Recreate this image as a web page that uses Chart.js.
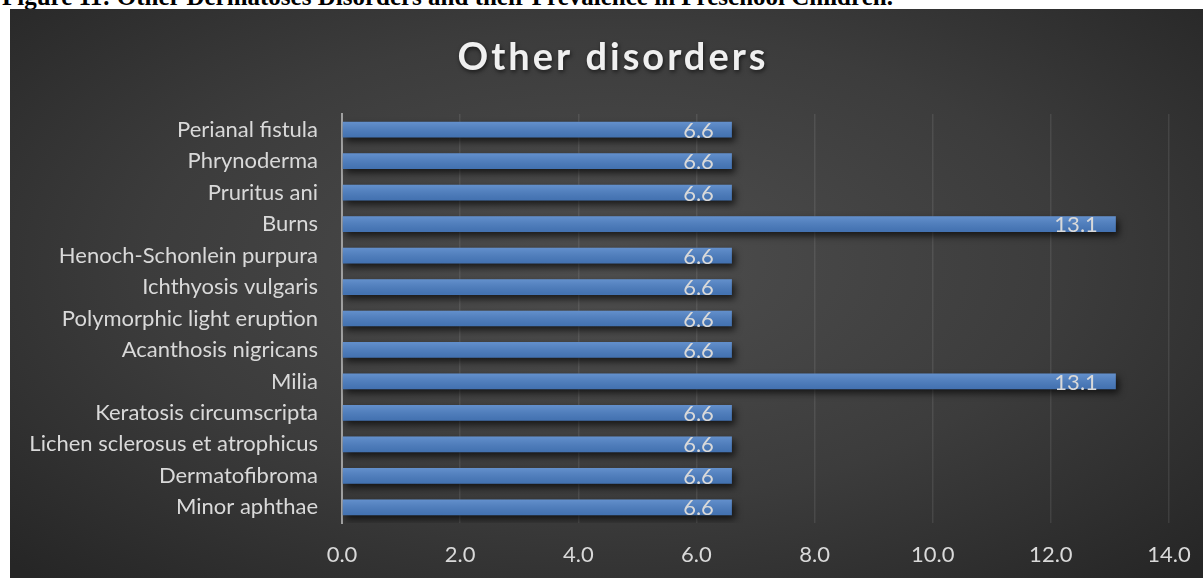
<!DOCTYPE html>
<html>
<head>
<meta charset="utf-8">
<script src="https://cdn.jsdelivr.net/npm/chart.js@4"></script>
<style>
  html, body { margin: 0; padding: 0; background: #fff; overflow: hidden; }
  body { width: 1203px; height: 578px; position: relative; }
  #caption {
    position: absolute; left: 2px; top: -17px; white-space: nowrap;
    font: bold 25px "Liberation Serif", "Times New Roman", serif; color: #000;
  }
  #box {
    position: absolute; left: 10px; top: 9px; width: 1193px; height: 569px;
    background: radial-gradient(ellipse 70% 75% at 50% 45%, #4e4e4e 0%, #3c3c3c 55%, #262626 100%);
  }
  canvas { display: block; }
</style>
</head>
<body>
<div id="caption">Figure 11: Other Dermatoses Disorders and their Prevalence in Preschool Children.</div>
<div id="box"><canvas id="chart" width="1193" height="569"></canvas></div>
<script>
const chartTitle = 'Other disorders';
const categories = [
  'Perianal fistula', 'Phrynoderma', 'Pruritus ani', 'Burns',
  'Henoch-Schonlein purpura', 'Ichthyosis vulgaris', 'Polymorphic light eruption',
  'Acanthosis nigricans', 'Milia', 'Keratosis circumscripta',
  'Lichen sclerosus et atrophicus', 'Dermatofibroma', 'Minor aphthae'
];
const prevalence = [6.6, 6.6, 6.6, 13.1, 6.6, 6.6, 6.6, 6.6, 13.1, 6.6, 6.6, 6.6, 6.6];
const xTicks = [0, 2, 4, 6, 8, 10, 12, 14];

const FONT = 'Lato';
const TEXT = '#d9d9d9';

// soft shadow under bars, then a gloss and the value labels on top
const barDeco = {
    id: 'barDeco',
    beforeDatasetsDraw(chart) {
        const ctx = chart.ctx;
        ctx.save();
        ctx.shadowColor = 'rgba(0,0,0,0.65)';
        ctx.shadowBlur = 7;
        ctx.shadowOffsetX = 3;
        ctx.shadowOffsetY = 4;
    },
    afterDatasetsDraw(chart) {
        const ctx = chart.ctx;
        ctx.restore();
        const meta = chart.getDatasetMeta(0);
        ctx.save();
        meta.data.forEach(function (bar, i) {
            const top = bar.y - bar.height / 2;
            const g = ctx.createLinearGradient(0, top, 0, top + bar.height);
            g.addColorStop(0, 'rgba(255,255,255,0.14)');
            g.addColorStop(1, 'rgba(0,0,0,0.10)');
            ctx.fillStyle = g;
            ctx.fillRect(bar.base, top, bar.x - bar.base, bar.height);

            ctx.fillStyle = TEXT;
            ctx.font = '22px ' + FONT;
            ctx.textAlign = 'right';
            ctx.textBaseline = 'middle';
            ctx.fillText(prevalence[i].toFixed(1), bar.x - 18, bar.y + 1);
        });
        ctx.restore();
    }
};

const titleText = {
    id: 'titleText',
    afterDraw(chart) {
        const ctx = chart.ctx;
        ctx.save();
        ctx.font = 'bold 38px ' + FONT;
        ctx.letterSpacing = '3px';
        ctx.textAlign = 'center';
        ctx.textBaseline = 'middle';
        ctx.shadowColor = 'rgba(0,0,0,0.6)';
        ctx.shadowBlur = 4;
        ctx.shadowOffsetX = 1;
        ctx.shadowOffsetY = 2;
        ctx.fillStyle = '#f0f0f0';
        ctx.fillText(chartTitle, 603, 49);
        ctx.restore();
    }
};

new Chart(document.getElementById('chart').getContext('2d'), {
    type: 'bar',
    data: {
        labels: categories,
        datasets: [{
            label: 'Prevalence (%)',
            data: prevalence,
            backgroundColor: '#4a7ec4',
            borderWidth: 0,
            categoryPercentage: 1,
            barPercentage: 0.5
        }]
    },
    options: {
        indexAxis: 'y',
        responsive: false,
        animation: false,
        layout: { padding: { top: 105, right: 34, bottom: 0, left: 0 } },
        plugins: {
            legend: { display: false },
            title: { display: false },
            tooltip: { enabled: false }
        },
        scales: {
            x: {
                min: 0,
                max: 14,
                afterBuildTicks(scale) {
                    scale.ticks = xTicks.map(v => ({ value: v }));
                },
                afterFit(scale) {
                    scale.height = 55;
                    scale.paddingLeft = 0;
                    scale.paddingRight = 0;
                },
                grid: { color: 'rgba(255,255,255,0.09)', lineWidth: 1.5, drawTicks: false },
                border: { display: false },
                ticks: {
                    color: TEXT,
                    font: { family: FONT, size: 22 },
                    padding: 19,
                    callback: v => Number(v).toFixed(1)
                }
            },
            y: {
                afterFit(scale) {
                    scale.width = 332;
                    scale.paddingTop = 0;
                    scale.paddingBottom = 0;
                },
                grid: { display: false, drawTicks: false },
                border: { display: true, color: '#a0a0a0', width: 2 },
                ticks: {
                    color: TEXT,
                    font: { family: FONT, size: 22 },
                    padding: 24
                }
            }
        }
    },
    plugins: [barDeco, titleText]
});
</script>
</body>
</html>
